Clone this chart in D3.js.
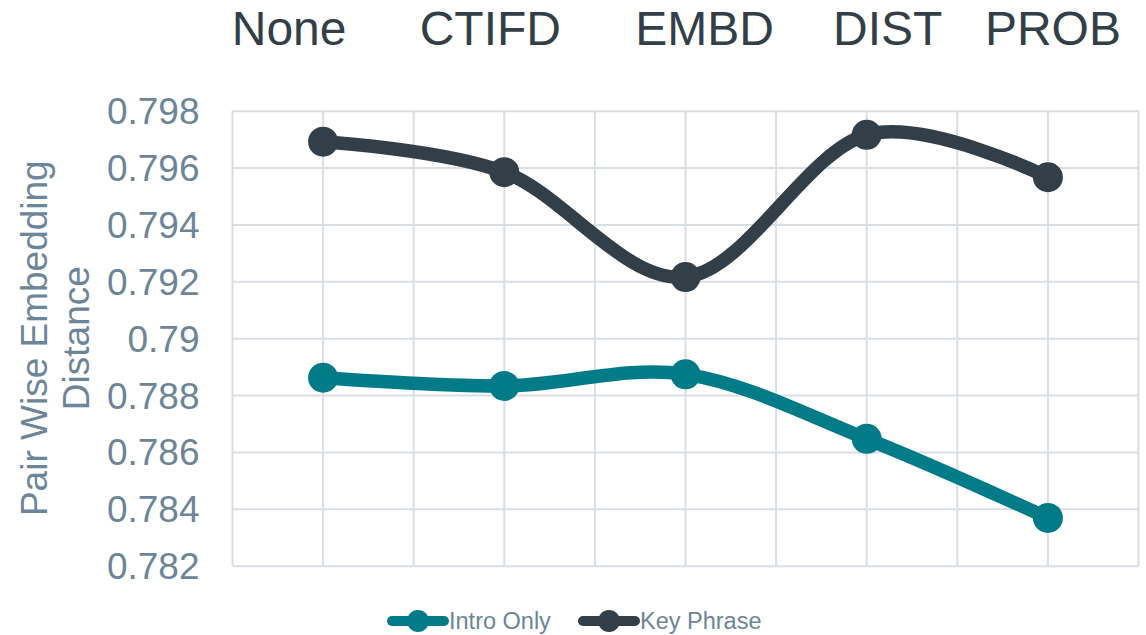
<!DOCTYPE html>
<html>
<head>
<meta charset="utf-8">
<script src="https://cdn.jsdelivr.net/npm/d3@7"></script>
<style>
  body { margin: 0; background: #fff; }
  svg { font-family: "Liberation Sans", Arial, sans-serif; }
</style>
</head>
<body>
<svg width="1146" height="635"></svg>
<script>
const categories = ["None", "CTIFD", "EMBD", "DIST", "PROB"];
const introOnly = [0.78861, 0.78832, 0.78873, 0.78646, 0.78368];
const keyPhrase = [0.79691, 0.79584, 0.79215, 0.79715, 0.79566];
const yTicks = [0.782, 0.784, 0.786, 0.788, 0.79, 0.792, 0.794, 0.796, 0.798];

const series = [
  { name: "Intro Only", values: introOnly, color: "#007B87" },
  { name: "Key Phrase", values: keyPhrase, color: "#333F48" }
];

// header labels sit a bit off the category centres in the original
const headerShift = [-34, -14, 19, 21, 5];

const plot = { left: 232.5, right: 1138.5, top: 110.7, bottom: 565.7 };
const gridColor = "#D9DEE3";
const labelColor = "#6D8599";

const svg = d3.select("svg");

const x = d3.scalePoint()
  .domain(categories)
  .range([plot.left, plot.right])
  .padding(0.5);

const y = d3.scaleLinear()
  .domain([0.782, 0.798])
  .range([plot.bottom, plot.top]);

// horizontal gridlines + y labels
const yAxis = svg.append("g")
  .attr("transform", `translate(${plot.left},0)`)
  .call(d3.axisLeft(y)
    .tickValues(yTicks)
    .tickSize(-(plot.right - plot.left))
    .tickPadding(33)
    .tickFormat(d => String(+d.toFixed(3))));
yAxis.select(".domain").remove();
yAxis.selectAll(".tick line")
  .attr("stroke", gridColor)
  .attr("stroke-width", 2);
yAxis.selectAll(".tick text")
  .attr("fill", labelColor)
  .style("font-size", "37px")
  .attr("dy", "0.35em");

// vertical gridlines: at each category and halfway between
const step = x.step();
const vLines = [plot.left].concat(
  categories.flatMap(c => [x(c), x(c) + step / 2])
);
svg.append("g")
  .selectAll("line")
  .data(vLines)
  .enter()
  .append("line")
  .attr("x1", d => d)
  .attr("x2", d => d)
  .attr("y1", plot.top)
  .attr("y2", plot.bottom)
  .attr("stroke", gridColor)
  .attr("stroke-width", 2);

// header labels across the top
svg.append("g")
  .selectAll("text")
  .data(categories)
  .enter()
  .append("text")
  .attr("x", (d, i) => x(d) + headerShift[i])
  .attr("y", 45)
  .attr("text-anchor", "middle")
  .attr("fill", "#333F48")
  .style("font-size", "48px")
  .text(d => d);

// y axis title
const title = svg.append("text")
  .attr("transform", `translate(0,${(plot.top + plot.bottom) / 2}) rotate(-90)`)
  .attr("text-anchor", "middle")
  .attr("fill", labelColor)
  .style("font-size", "37px");
title.append("tspan").attr("x", 0).attr("y", 47).text("Pair Wise Embedding");
title.append("tspan").attr("x", 0).attr("y", 89).text("Distance");

// lines
const line = d3.line()
  .x((d, i) => x(categories[i]))
  .y(d => y(d))
  .curve(d3.curveCardinal.tension(0));

series.forEach(s => {
  svg.append("path")
    .datum(s.values)
    .attr("d", line)
    .attr("fill", "none")
    .attr("stroke", s.color)
    .attr("stroke-width", 13.5)
    .attr("stroke-linecap", "round");

  svg.selectAll(null)
    .data(s.values)
    .enter()
    .append("circle")
    .attr("cx", (d, i) => x(categories[i]))
    .attr("cy", d => y(d))
    .attr("r", 15)
    .attr("fill", s.color);
});

// legend
const legendX = [388, 579];
const legend = svg.append("g")
  .selectAll("g")
  .data(series)
  .enter()
  .append("g")
  .attr("transform", (d, i) => `translate(${legendX[i]},621)`);

legend.append("line")
  .attr("x1", 4).attr("x2", 56)
  .attr("stroke", d => d.color)
  .attr("stroke-width", 10)
  .attr("stroke-linecap", "round");
legend.append("circle")
  .attr("cx", 30)
  .attr("r", 11)
  .attr("fill", d => d.color);
legend.append("text")
  .attr("x", 61)
  .attr("dy", "0.35em")
  .attr("fill", labelColor)
  .style("font-size", "23.5px")
  .text(d => d.name);
</script>
</body>
</html>
